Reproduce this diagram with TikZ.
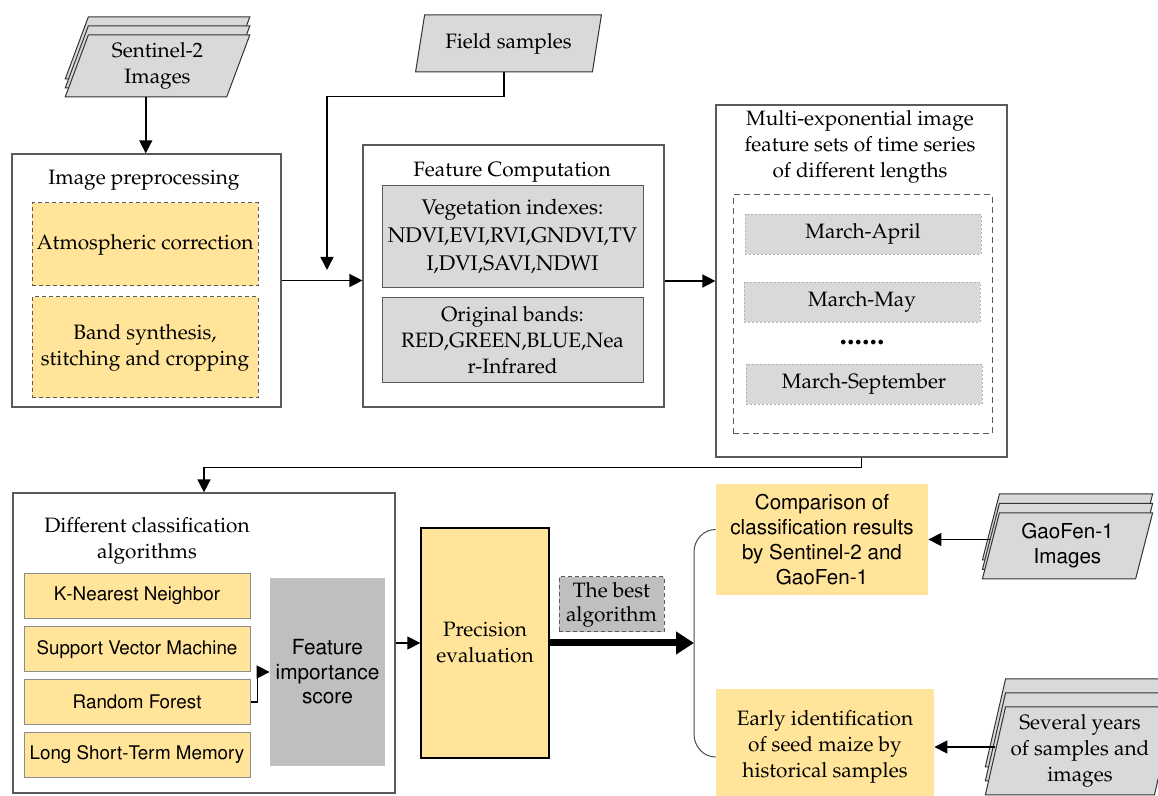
\documentclass[tikz,border=0pt]{standalone}
\usepackage[T1]{fontenc}
\usepackage{mathpazo}
\usepackage{tikz}
\usetikzlibrary{shapes.geometric, arrows.meta, positioning, shadows}
\definecolor{boxorange}{RGB}{255,228,153}
\definecolor{boxgray}{RGB}{217,217,217}
\definecolor{midgray}{RGB}{191,191,191}
\definecolor{edgegray}{RGB}{90,90,90}
\newcommand{\optfont}{\fontfamily{phv}\selectfont}

\begin{document}
\begin{tikzpicture}[x=0.5pt, y=-0.5pt,
  font=\fontsize{10.4}{13}\selectfont,
  frame/.style={draw=edgegray, line width=0.6pt, fill=white, inner sep=0pt},
  stepbox/.style={draw=edgegray, fill=boxorange, dash pattern=on 2pt off 1.5pt, line width=0.5pt, align=center, inner sep=0pt, minimum width=113pt},
  graybox/.style={draw=edgegray, fill=boxgray, line width=0.5pt, align=center, inner sep=0pt, minimum width=130.5pt},
  monthbox/.style={draw=gray!60, fill=boxgray, dash pattern=on 1pt off 1pt, line width=0.4pt, inner sep=0pt, minimum width=118pt, minimum height=20pt},
  algbox/.style={draw=black!45, fill=boxorange, line width=0.5pt, inner sep=0pt, minimum width=113pt, minimum height=22.5pt, font=\optfont\fontsize{9.4}{11}\selectfont},
  resbox/.style={fill=boxorange, align=center, inner sep=0pt},
  datain/.style={trapezium, trapezium stretches=true, draw=black!80, fill=boxgray, line width=0.5pt, align=center, inner sep=0pt},
  arr/.style={-{Triangle[length=6.5pt, width=6.5pt]}, line width=0.75pt},
  bigarr/.style={-{Triangle[length=9pt, width=11pt]}, line width=3.5pt},
  brc/.style={draw=black!70, line width=0.5pt}
]
\clip (0,0) rectangle (1158,796);

% inputs
\node[datain, trapezium left angle=72, trapezium right angle=108, minimum width=92.5pt, minimum height=31pt,
  double copy shadow={shadow xshift=0pt, shadow yshift=4.5pt, fill=boxgray, draw=black!80, line width=0.5pt}]
  (sentinel) at (157.5,66) {Sentinel-2\\Images};
\node[datain, trapezium left angle=72, trapezium right angle=108, minimum width=93.5pt, minimum height=28.5pt]
  (field) at (508.5,43.5) {Field samples};

% image preprocessing
\node[frame, minimum width=134.5pt, minimum height=126.5pt] (prep) at (146.5,280.5) {};
\node (preptitle) at (144,180) {Image preprocessing};
\node[stepbox, minimum height=41.5pt] (atmo) at (145,244.5) {Atmospheric correction};
\node[stepbox, minimum height=50.5pt] (band) at (145,347.5) {Band synthesis,\\stitching and cropping};

% feature computation
\node[frame, minimum width=150.5pt, minimum height=131pt] (feat) at (513.5,276) {};
\node (feattitle) at (512,172) {Feature Computation};
\node[graybox, minimum height=51pt, font=\fontsize{10.6}{14}\selectfont] (veg) at (512.5,237) {Vegetation indexes:\\NDVI,EVI,RVI,GNDVI,TV\\I,DVI,SAVI,NDWI};
\node[graybox, minimum height=42.5pt] (bands) at (512.5,340.5) {Original bands:\\RED,GREEN,BLUE,Nea\\r-Infrared};

% time series feature sets
\node[frame, minimum width=145.5pt, minimum height=176pt] (multi) at (861.5,281) {};
\node[align=center] (multititle) at (860,147) {Multi-exponential image\\feature sets of time series\\of different lengths};
\node[draw=edgegray, dash pattern=on 3pt off 2pt, line width=0.5pt, minimum width=129.5pt, minimum height=119.5pt, inner sep=0pt] (sets) at (862.5,314.5) {};
\node[monthbox] (apr) at (863,234) {March-April};
\node[monthbox] (may) at (862,302) {March-May};
\node (dots) at (862,343) {\fontsize{15}{15}\bfseries\selectfont ......};
\node[monthbox] (sep) at (864,384) {March-September};

% classification
\node[frame, minimum width=191pt, minimum height=150pt] (diff) at (204,643) {};
\node[align=center] (difftitle) at (147,541) {Different classification\\algorithms};
\node[algbox] (knn) at (137,596) {K-Nearest Neighbor};
\node[algbox] (svm) at (137,649.5) {Support Vector Machine};
\node[algbox] (rf) at (137,702) {Random Forest};
\node[algbox] (lstm) at (137,755) {Long Short-Term Memory};
\node[fill=midgray, minimum width=57.5pt, minimum height=94pt, inner sep=0pt, align=center,
  font=\optfont\fontsize{10.4}{12.3}\selectfont] (fis) at (327.5,672) {Feature\\importance\\score};

% evaluation
\node[draw=black, fill=boxorange, line width=0.7pt, minimum width=64pt, minimum height=115pt, inner sep=0pt, align=center] (prec) at (485,643) {Precision\\evaluation};
\node[draw=edgegray, fill=midgray, dash pattern=on 2pt off 1.5pt, line width=0.5pt, minimum width=52.5pt, minimum height=27.5pt, inner sep=0pt, align=center, font=\fontsize{10.4}{12}\selectfont] (best) at (611.5,604.5) {The best\\algorithm};
\coordinate (brmid) at (694,643);
\coordinate (brtop) at (694,552);
\coordinate (brbot) at (694,734);

% results
\node[resbox, minimum width=106pt, minimum height=55.5pt, font=\optfont\fontsize{10.3}{12.4}\selectfont] (comp) at (822,539.5) {Comparison of\\classification results\\by Sentinel-2 and\\GaoFen-1};
\node[resbox, minimum width=109pt, minimum height=58pt] (early) at (825,747) {Early identification\\of seed maize by\\historical samples};
\node[datain, trapezium left angle=75.5, trapezium right angle=104.5, minimum width=85.5pt, minimum height=33pt,
  double copy shadow={shadow xshift=0pt, shadow yshift=4.75pt, fill=boxgray, draw=black!80, line width=0.5pt},
  font=\optfont\fontsize{10.3}{12.4}\selectfont] (gaofen) at (1067.5,546) {GaoFen-1\\Images};
\node[datain, trapezium left angle=75.5, trapezium right angle=104.5, minimum width=95pt, minimum height=44pt,
  double copy shadow={shadow xshift=0pt, shadow yshift=7pt, fill=boxgray, draw=black!80, line width=0.5pt}]
  (several) at (1080,751) {Several years\\of samples and\\images};

% connectors
\coordinate (fsin) at (327,270);
\draw[arr] (sentinel.bottom side) -- (sentinel.bottom side |- prep.north);
\draw[arr] (field.bottom side) -- ++(0,24) -| (fsin);
\draw[arr] (prep.east) -- (prep.east -| feat.west);
\draw[arr] (feat.east |- multi.west) -- (multi.west);
\draw[arr] (multi.south) -- ++(0,10) -| (diff.north);
\draw[arr] (rf.east) -- ++(7,0) |- (fis.west);
\draw[arr] (diff.east |- prec.west) -- (prec.west);
\draw[bigarr] (prec.east) -- (brmid);
\draw[brc] ([yshift=5pt]comp.west) to[out=180, in=90] (brtop) -- (brbot) to[out=-90, in=180] ([yshift=-5pt]early.west);
\draw[arr] (comp.east -| gaofen.left side) -- (comp.east);
\draw[arr] (early.east -| several.left side) -- (early.east);
\end{tikzpicture}
\end{document}
